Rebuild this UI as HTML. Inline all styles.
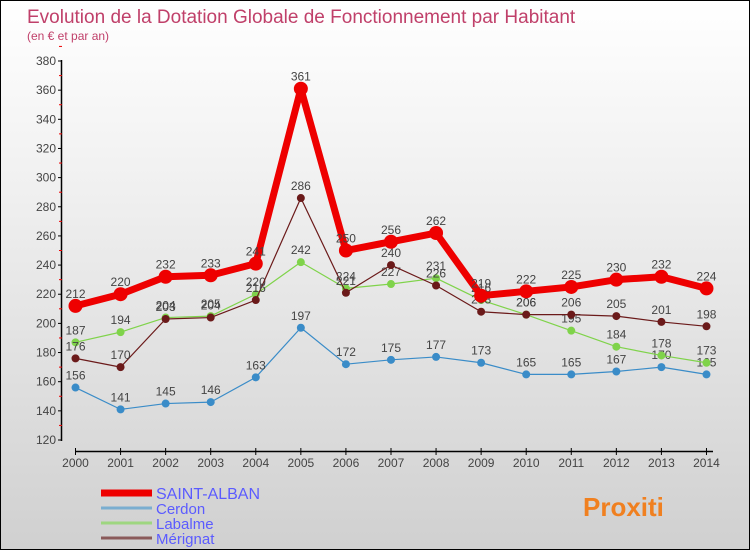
<!DOCTYPE html>
<html><head><meta charset="utf-8"><style>
body{margin:0}
#c{width:748px;height:548px;border:1px solid #000;background:linear-gradient(#fff,#f2f2f2 30%,#d0d0d0);position:relative;font-family:"Liberation Sans","DejaVu Sans",sans-serif}
</style></head><body>
<div id="c">
<svg id="s" width="748" height="548">
<text x="26" y="22" font-size="19" fill="#c0406a">Evolution de la Dotation Globale de Fonctionnement par Habitant</text>
<text x="26" y="39" font-size="12" fill="#c0406a">(en € et par an)</text>
<g id="g"></g>
</svg>
</div>
<script>
const years=[2000,2001,2002,2003,2004,2005,2006,2007,2008,2009,2010,2011,2012,2013,2014];
const yTicks=[120,140,160,180,200,220,240,260,280,300,320,340,360,380];
const saintAlban=[212,220,232,233,241,361,250,256,262,219,222,225,230,232,224];
const cerdon=[156,141,145,146,163,197,172,175,177,173,165,165,167,170,165];
const labalme=[187,194,204,205,220,242,224,227,231,216,206,195,184,178,173];
const merignat=[176,170,203,204,216,286,221,240,226,208,206,206,205,201,198];
const NS="http://www.w3.org/2000/svg",g=document.getElementById('g');
const X=i=>74.5+i*45.07, Y=v=>439-(v-120)*379/260;
function el(t,a,name){const e=document.createElementNS(NS,t);for(const k in a)e.setAttribute(k,a[k]);


g.appendChild(e);return e;}
el('line',{x1:60.5,y1:59,x2:60.5,y2:440,stroke:'#000','stroke-width':1.5},'y-axis');
yTicks.forEach(v=>{el('line',{x1:57,x2:61,y1:Y(v),y2:Y(v),stroke:'#000'},'y-tick');
el('line',{x1:58,x2:61,y1:Y(v+10),y2:Y(v+10),stroke:'#e00'},'y-minor-tick');
const t=el('text',{x:55,y:Y(v)+4,'font-size':12,'text-anchor':'end',fill:'#444'},'y-tick-label');t.textContent=v;});
el('line',{x1:74,y1:450.5,x2:712,y2:450.5,stroke:'#000','stroke-width':1.5},'x-axis');
years.forEach((y,i)=>{el('line',{x1:X(i),x2:X(i),y1:447,y2:454,stroke:'#000'},'x-tick');
const t=el('text',{x:X(i),y:466,'font-size':12,'text-anchor':'middle',fill:'#444'},'x-tick-label');t.textContent=y;});
function series(d,col,w,r,name,below){
el('polyline',{points:d.map((v,i)=>X(i)+','+Y(v)).join(' '),fill:'none',stroke:col,'stroke-width':w,'stroke-linejoin':'round'},name+'-line');
d.forEach((v,i)=>{el('circle',{cx:X(i),cy:Y(v),r:r,fill:col},name+'-point');
const t=el('text',{x:X(i),y:below?Y(v)+16:Y(v)-8,'font-size':12,'text-anchor':'middle',fill:'#444'},name+'-value');t.textContent=v;});}
series(cerdon,'#3a8cc8',1.2,4,'cerdon',false);
series(labalme,'#7fd34a',1.2,4,'labalme',false);
series(merignat,'#6b1a1a',1.2,4,'merignat',false);
series(saintAlban,'#ee0000',7,7,'saint-alban',false);
const leg=[['SAINT-ALBAN','#ee0000',7],['Cerdon','#7aaed0',3],['Labalme','#9ed680',3],['Mérignat','#8a5a5a',3]];
leg.forEach((l,i)=>{const y=492+i*15;
el('line',{x1:100,x2:151,y1:y,y2:y,stroke:l[1],'stroke-width':l[2]},'legend-swatch');
const t=el('text',{x:155,y:y+6,'font-size':i?15:16,fill:'#5b5bff'},'legend-entry');t.textContent=l[0];});
const p=el('text',{x:582,y:515,'font-size':26,'font-weight':'bold',fill:'#f08020'},'proxiti-logo');p.textContent='Proxiti';
</script>
</body></html>
